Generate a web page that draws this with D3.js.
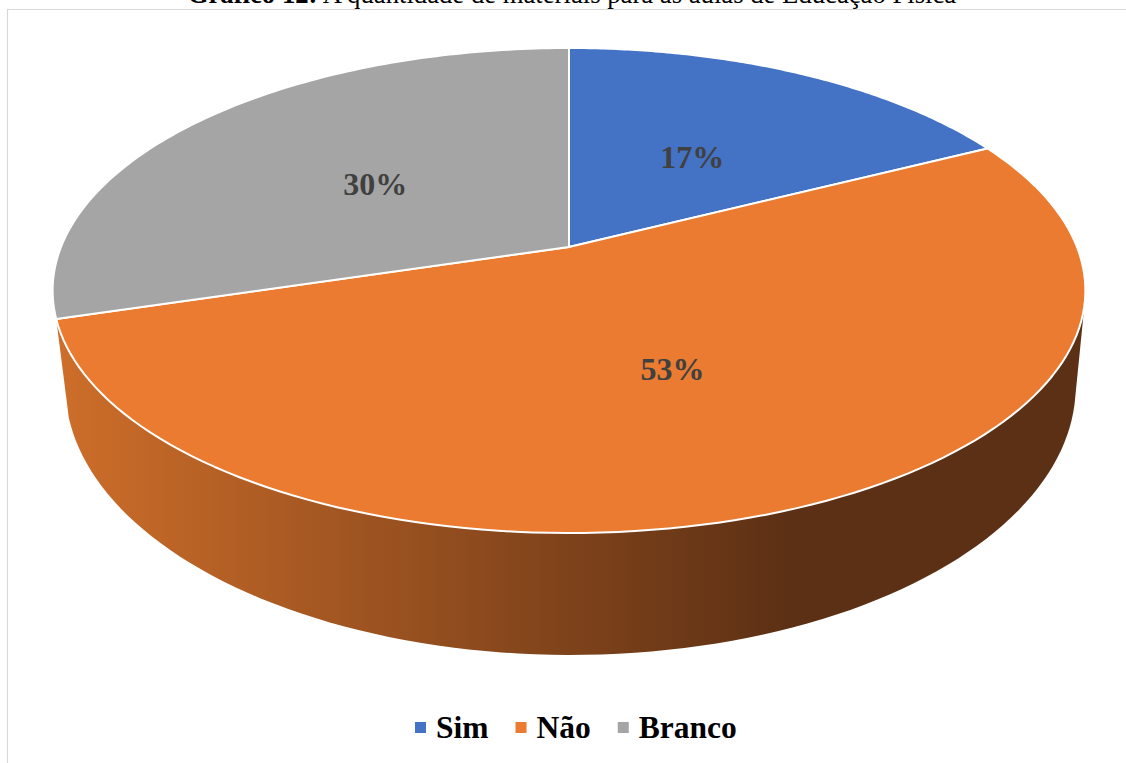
<!DOCTYPE html>
<html>
<head>
<meta charset="utf-8">
<script src="https://cdn.jsdelivr.net/npm/d3@7"></script>
<style>
  body { margin: 0; background: #fff; }
  svg { display: block; }
  text { font-family: "Liberation Serif", serif; }
</style>
</head>
<body>
<svg width="1126" height="763"></svg>
<script>
var categories = ["Sim", "Não", "Branco"];
var shares = [17.5, 52.8, 29.7];
var shareLabels = ["17%", "53%", "30%"];
var colors = ["#4472C4", "#EB7B30", "#A5A5A5"];

var svg = d3.select("svg");

// perspective view of a disc: k pulls the near edge out and pushes the far edge in
var k = 0.1794;
var topDisc = { cx: 569, cy: 247, a: 508, b: 234.7 };
var bottomDisc = { cx: 570.5, cy: 337.7, a: 497, b: 260.3 };

function project(disc, angle, r)
{
    var u = r * Math.sin(angle);
    var v = -r * Math.cos(angle);
    var w = 1 - k * v;
    return [disc.cx + disc.a * u / w, disc.cy + disc.b * v / w];
}

function arcPoints(disc, start, end)
{
    return d3.range(0, 121).map(function(i)
			 {
			     return project(disc, start + (end - start) * i / 120, 1);
			 });
}

var pie = d3.pie().sort(null);
var slices = pie(shares);
var line = d3.line();

// frame
svg.append("path")
    .attr("d", "M7.5,763V9.5H1126")
    .attr("fill", "none")
    .attr("stroke", "#d9d9d9")
    .attr("stroke-width", 1.2);

// title, cut off by the top of the picture
var title = svg.append("text")
    .attr("x", 572)
    .attr("y", 3)
    .attr("text-anchor", "middle")
    .attr("font-size", 26.7)
    .attr("fill", "#000");
title.append("tspan").attr("font-weight", "bold").text("Gráfico 12:");
title.append("tspan").text(" A quantidade de materiais para as aulas de Educação Física");

// side wall of the big slice, the only one facing the viewer
var grad = svg.append("defs").append("linearGradient")
    .attr("id", "wall")
    .attr("gradientUnits", "userSpaceOnUse")
    .attr("x1", 55).attr("y1", 0)
    .attr("x2", 790).attr("y2", 0);
grad.append("stop").attr("offset", 0).attr("stop-color", "#CE6E2A");
grad.append("stop").attr("offset", 1).attr("stop-color", "#5C3014");

var front = slices[1];
var hull = d3.polygonHull(arcPoints(topDisc, front.startAngle, front.endAngle)
			  .concat(arcPoints(bottomDisc, front.startAngle, front.endAngle)));
svg.append("path")
    .attr("d", line(hull) + "Z")
    .attr("fill", "url(#wall)");

// top face
svg.append("g")
    .selectAll("path")
    .data(slices)
    .enter().append("path")
    .attr("d", function(d)
	  {
	      return line([[topDisc.cx, topDisc.cy]].concat(arcPoints(topDisc, d.startAngle, d.endAngle))) + "Z";
	  })
    .attr("fill", function(d, i) { return colors[i]; })
    .attr("stroke", "#fff")
    .attr("stroke-width", 2)
    .attr("stroke-linejoin", "round");

// value labels
svg.append("g")
    .selectAll("text")
    .data(slices)
    .enter().append("text")
    .attr("transform", function(d)
	  {
	      var p = project(topDisc, (d.startAngle + d.endAngle) / 2, 0.5);
	      return "translate(" + p[0] + "," + p[1] + ")";
	  })
    .attr("dy", "0.44em")
    .attr("text-anchor", "middle")
    .attr("font-size", 32)
    .attr("font-weight", "bold")
    .attr("fill", "#404040")
    .text(function(d, i) { return shareLabels[i]; });

// legend
var legendX = 415;
categories.forEach(function(name, i)
		   {
		       svg.append("rect")
			   .attr("x", legendX)
			   .attr("y", 722)
			   .attr("width", 11)
			   .attr("height", 11)
			   .attr("fill", colors[i]);
		       var t = svg.append("text")
			   .attr("x", legendX + 21)
			   .attr("y", 738)
			   .attr("font-size", 31.5)
			   .attr("font-weight", "bold")
			   .attr("fill", "#000")
			   .text(name);
		       legendX += 21 + t.node().getComputedTextLength() + 27;
		   });
</script>
</body>
</html>
